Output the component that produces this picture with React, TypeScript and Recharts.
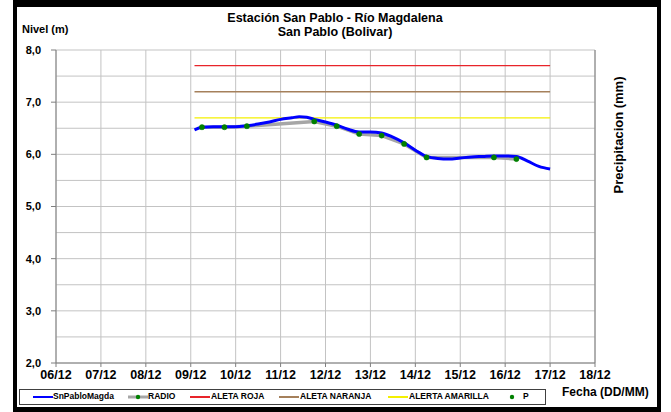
import { LineChart, Line, XAxis, YAxis, CartesianGrid, ReferenceLine } from 'recharts';

// horas desde 06/12 00:00
const horasNivel = [
  74, 78, 84, 90, 96, 102, 108, 114, 120, 126, 130, 134, 138, 144, 150, 156, 162, 168,
  174, 180, 186, 192, 198, 204, 210, 216, 222, 228, 234, 240, 246, 252, 258, 264,
];
const nivelSnPablo = [
  6.47, 6.52, 6.53, 6.53, 6.53, 6.55, 6.58, 6.62, 6.67, 6.7, 6.72, 6.71, 6.67, 6.62, 6.56, 6.48, 6.43, 6.43,
  6.41, 6.33, 6.22, 6.08, 5.96, 5.92, 5.91, 5.93, 5.95, 5.96, 5.97, 5.97, 5.96, 5.87, 5.77, 5.72,
];

const horasRadio = [78, 90, 102, 138, 150, 162, 174, 186, 198, 234, 246];
const nivelRadio = [6.52, 6.52, 6.54, 6.63, 6.54, 6.39, 6.36, 6.2, 5.94, 5.94, 5.91];

const precipitacion: { t: number; v: number }[] = [];

const alertaHoras = [74, 264];
const alertaNombres = ['ALETA ROJA', 'ALETA NARANJA', 'ALERTA AMARILLA'];
const alertaValores = [7.7, 7.2, 6.7];
const alertaColores = ['#e8242a', '#a5805b', '#f4f000'];

const fechaTicks = [0, 24, 48, 72, 96, 120, 144, 168, 192, 216, 240, 264, 288];
const fechaEtiquetas = ['06/12', '07/12', '08/12', '09/12', '10/12', '11/12', '12/12', '13/12', '14/12', '15/12', '16/12', '17/12', '18/12'];
const nivelTicks = [2, 3, 4, 5, 6, 7, 8];
const nivelMedios = [2.5, 3.5, 4.5, 5.5, 6.5, 7.5];

const nivelDatos = horasNivel.map((t, i) => ({ t, v: nivelSnPablo[i] }));
const radioDatos = horasRadio.map((t, i) => ({ t, v: nivelRadio[i] }));

const FONT = '"Liberation Sans", Arial, sans-serif';
const tickStyle = { fill: '#000', fontSize: 11, fontWeight: 700, fontFamily: FONT };
const txt = { position: 'absolute' as const, fontFamily: FONT, fontWeight: 700, color: '#000', whiteSpace: 'nowrap' as const };

function Muestra({ color, punto, soloPunto }: { color?: string; punto?: boolean; soloPunto?: boolean }) {
  return (
    <svg width={20} height={8} style={{ display: 'block' }}>
      {!soloPunto && <line x1={0} y1={4} x2={20} y2={4} stroke={color} strokeWidth={punto ? 3 : 2} />}
      {(punto || soloPunto) && <circle cx={10} cy={4} r={2.2} fill="#008000" />}
    </svg>
  );
}

export default function App() {
  const legend = [
    { x: 33, tx: 53, label: 'SnPabloMagda', el: <Muestra color="#0000ff" /> },
    { x: 128, tx: 148, label: 'RADIO', el: <Muestra color="#a6a6a6" punto /> },
    { x: 190, tx: 211, label: alertaNombres[0], el: <Muestra color={alertaColores[0]} /> },
    { x: 279, tx: 300, label: alertaNombres[1], el: <Muestra color={alertaColores[1]} /> },
    { x: 388, tx: 409, label: alertaNombres[2], el: <Muestra color={alertaColores[2]} /> },
    { x: 502, tx: 523, label: 'P', el: <Muestra soloPunto /> },
  ];
  return (
    <div style={{ position: 'absolute', left: 0, top: 0, width: 671, height: 412, background: '#fff', overflow: 'hidden' }}>
      <div style={{ position: 'absolute', left: 13, top: 0, width: 640, height: 400, borderTop: '7px solid #000', borderLeft: '4px solid #000', borderRight: '4px solid #000', borderBottom: '5px solid #000' }} />
      <div style={{ ...txt, left: 185, width: 300, top: 12, fontSize: 12.5, textAlign: 'center', lineHeight: '13.5px' }}>
        Estación San Pablo - Río Magdalena
        <br />
        San Pablo (Bolivar)
      </div>
      <div style={{ ...txt, left: 22, top: 23, fontSize: 11 }}>Nivel (m)</div>
      <div style={{ ...txt, left: 562, top: 385, fontSize: 12 }}>Fecha (DD/MM)</div>
      <div style={{ ...txt, left: 618, top: 135, fontSize: 13, transform: 'translate(-50%, -50%) rotate(-90deg)' }}>Precipitacion (mm)</div>

      <div style={{ position: 'absolute', left: 0, top: 0 }}>
        <LineChart width={671} height={412} margin={{ top: 50, right: 46, bottom: 25, left: 16 }} style={{ fontFamily: FONT }}>
          <CartesianGrid yAxisId="niv" stroke="#c3c3c3" />
          <XAxis
            type="number"
            dataKey="t"
            domain={[0, 288]}
            ticks={fechaTicks}
            tickFormatter={(v: number) => fechaEtiquetas[fechaTicks.indexOf(v)]}
            stroke="#7f7f7f"
            tick={{ ...tickStyle, fontSize: 12.5 }}
            tickSize={4}
            tickMargin={3}
            height={24}
            interval={0}
          />
          <YAxis
            yAxisId="niv"
            domain={[2, 8]}
            ticks={nivelTicks}
            tickFormatter={(v: number) => v.toFixed(1).replace('.', ',')}
            stroke="#7f7f7f"
            tick={tickStyle}
            tickSize={5}
            tickMargin={10}
            width={40}
            interval={0}
          />
          <YAxis
            yAxisId="pre"
            orientation="right"
            reversed
            domain={[0, 10]}
            ticks={[0]}
            stroke="#7f7f7f"
            tick={tickStyle}
            tickSize={4}
            tickMargin={10}
            width={30}
          />
          {nivelMedios.map((v) => (
            <ReferenceLine key={v} yAxisId="niv" y={v} stroke="#c3c3c3" />
          ))}
          <Line yAxisId="niv" data={radioDatos} dataKey="v" type="linear" stroke="#a6a6a6" strokeWidth={3.5} dot={false} isAnimationActive={false} />
          {alertaValores.map((v, i) => (
            <Line
              key={alertaNombres[i]}
              yAxisId="niv"
              data={alertaHoras.map((t) => ({ t, v }))}
              dataKey="v"
              type="linear"
              stroke={alertaColores[i]}
              strokeWidth={1.3}
              dot={false}
              isAnimationActive={false}
            />
          ))}
          <Line yAxisId="niv" data={nivelDatos} dataKey="v" type="monotone" stroke="#0000ff" strokeWidth={3} dot={false} isAnimationActive={false} />
          <Line
            yAxisId="niv"
            data={radioDatos}
            dataKey="v"
            type="linear"
            stroke="none"
            dot={{ r: 2.6, fill: '#008000', stroke: '#008000', strokeWidth: 0.5 }}
            isAnimationActive={false}
          />
          <Line yAxisId="pre" data={precipitacion} dataKey="v" stroke="#008000" dot={{ r: 2, fill: '#008000' }} isAnimationActive={false} />
        </LineChart>
      </div>

      <div style={{ position: 'absolute', left: 19, top: 389, width: 525, height: 14, border: '1px solid #404040', background: '#fff' }} />
      {legend.map((l) => (
        <div key={l.label}>
          <div style={{ position: 'absolute', left: l.x, top: 393 }}>{l.el}</div>
          <div style={{ ...txt, left: l.tx, top: 391, fontSize: 8.5, lineHeight: '10px' }}>{l.label}</div>
        </div>
      ))}
    </div>
  );
}
